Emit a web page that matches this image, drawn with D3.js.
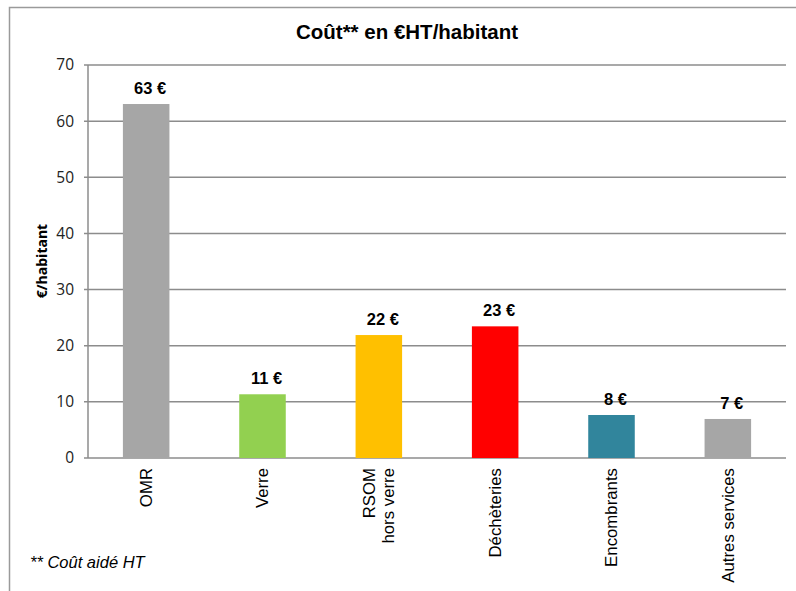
<!DOCTYPE html>
<html><head><meta charset="utf-8">
<script src="https://cdn.jsdelivr.net/npm/d3@7"></script>
<style>body{margin:0;background:#fff}</style>
</head><body>
<svg id="c" width="796" height="591"></svg>
<script>
const categories = ["OMR","Verre","RSOM\nhors verre","Déchèteries","Encombrants","Autres services"];
const values = [63.05, 11.35, 21.9, 23.45, 7.66, 6.95];
const valueLabels = ["63 €","11 €","22 €","23 €","8 €","7 €"];
const colors = ["#A6A6A6","#92D050","#FFC000","#FF0000","#31859C","#A6A6A6"];
const yTicks = [0,10,20,30,40,50,60,70];

const svg = d3.select("#c");
svg.append("rect").attr("x",9.5).attr("y",7.5).attr("width",800).attr("height",600)
  .attr("fill","#fff").attr("stroke","#9a9a9a").attr("stroke-width",1.5);

const L=88,R=786,T=65,B=458;
const x = d3.scaleBand().domain(categories).range([L,R]).paddingInner(0.6).paddingOuter(0.3);
const y = d3.scaleLinear().domain([0,70]).range([B,T]);

// grid
svg.append("g").selectAll("line").data(yTicks).join("line")
  .attr("x1",L-4).attr("x2",R).attr("y1",d=>y(d)).attr("y2",d=>y(d))
  .attr("stroke","#8c8c8c").attr("stroke-width",1.5);
svg.append("line").attr("x1",L).attr("x2",L).attr("y1",T).attr("y2",B)
  .attr("stroke","#8c8c8c").attr("stroke-width",1.5);

// y ticks labels
svg.append("g").selectAll("text").data(yTicks).join("text")
  .attr("x",74).attr("y",d=>y(d)).attr("dy","0.35em").attr("text-anchor","end")
  .attr("font-family","Open Sans, sans-serif").attr("font-size",15.5).attr("fill","#222")
  .text(d=>d);

// bars
svg.append("g").selectAll("rect").data(categories).join("rect")
  .attr("x",d=>x(d)).attr("width",x.bandwidth())
  .attr("y",(d,i)=>y(values[i])).attr("height",(d,i)=>B-y(values[i]))
  .attr("fill",(d,i)=>colors[i]);

// value labels
svg.append("g").selectAll("text").data(categories).join("text")
  .attr("x",d=>x(d)+x.bandwidth()/2+4).attr("y",(d,i)=>y(values[i])-10)
  .attr("text-anchor","middle").attr("font-family","Liberation Sans, Arial, sans-serif")
  .attr("font-weight","bold").attr("font-size",16.5).attr("fill","#000")
  .text((d,i)=>valueLabels[i]);

// category labels
const cg = svg.append("g").selectAll("text").data(categories).join("text")
  .attr("transform",d=>`translate(${x(d)+x.bandwidth()/2},468) rotate(-90)`)
  .attr("text-anchor","end").attr("font-family","Liberation Sans, Arial, sans-serif")
  .attr("font-size",16.8).attr("fill","#000");
cg.each(function(d){
  const lines=d.split("\n"); const n=lines.length;
  d3.select(this).selectAll("tspan").data(lines).join("tspan")
    .attr("x",0).attr("dy",(l,i)=> i===0 ? (0.35-(n-1)*0.575)+"em" : "1.15em").text(l=>l);
});

// title
svg.append("text").attr("x",407).attr("y",39).attr("text-anchor","middle")
  .attr("font-family","Liberation Sans, Arial, sans-serif").attr("font-weight","bold")
  .attr("font-size",20.5).text("Coût** en €HT/habitant");

// y axis title
svg.append("text").attr("transform","translate(47,261) rotate(-90)").attr("text-anchor","middle")
  .attr("font-family","Open Sans, sans-serif").attr("font-weight","bold")
  .attr("font-size",14).text("€/habitant");

// footnote
svg.append("text").attr("x",30).attr("y",568)
  .attr("font-family","Liberation Sans, Arial, sans-serif").attr("font-style","italic")
  .attr("font-size",16.5).text("** Coût aidé HT");
</script>
</body></html>
